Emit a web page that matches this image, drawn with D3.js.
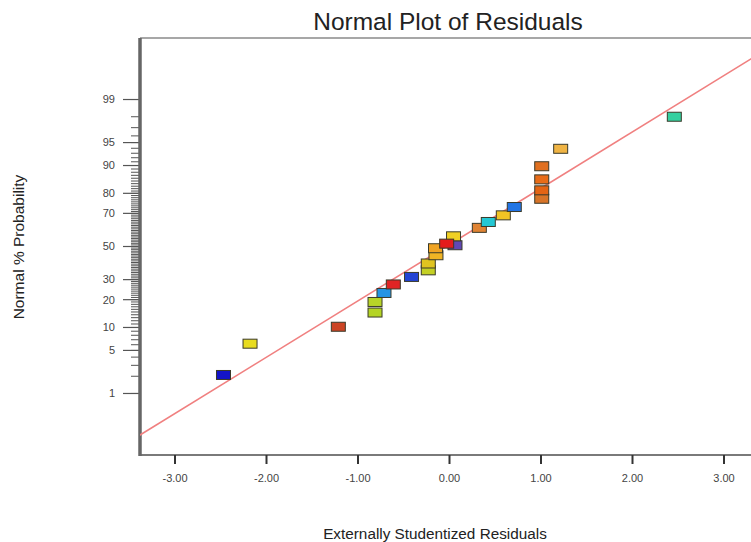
<!DOCTYPE html>
<html>
<head>
<meta charset="utf-8">
<script src="https://cdn.jsdelivr.net/npm/d3@7"></script>
<style>
  body { margin: 0; background: #fff; }
  svg { display: block; font-family: "Liberation Sans", Arial, sans-serif; }
</style>
</head>
<body>
<div id="chart"></div>
<script>
// Residuals (x) and normal % probability (y), in drawing order
const residuals = [-2.47, -2.18, -1.215, -0.814, -0.814, -0.716, -0.614, -0.415, -0.232, -0.232,
                   -0.148, -0.153, 0.06, 0.044, -0.031, 0.326, 0.424, 0.588, 0.708,
                   1.008, 1.008, 1.008, 1.008, 1.215, 2.457];
const probabilities = [2.1, 6.2, 10.2, 14.8, 19.0, 23.1, 27.4, 31.5, 35.3, 39.4,
                       44.5, 48.9, 50.8, 56.4, 51.8, 61.6, 65.1, 68.9, 73.4,
                       77.5, 81.3, 85.6, 89.8, 93.9, 98.0];
const pointColors = ["#1414c8", "#e8dc20", "#cc4424", "#b4d424", "#b8d428", "#2494e4", "#e02424", "#2444d4", "#c4d024", "#e0c420",
                     "#f0b424", "#f0a424", "#6048b4", "#f0d024", "#e41c1c", "#e08434", "#24c8d4", "#f0c424", "#2474e4",
                     "#d87428", "#e46414", "#e86c18", "#e07020", "#f0b444", "#34d0a0"];

// fitted line endpoints
const fitX = [-3.5, 3.5];
const fitP = [0.1004, 99.919];

// axis ticks
const xTicks = [-3, -2, -1, 0, 1, 2, 3];
const yMajorTicks = [1, 5, 10, 20, 30, 50, 70, 80, 90, 95, 99];
const yMinorTicks = d3.range(1, 100);

const width = 751;
const height = 542;

const plot = { left: 140, top: 38, right: 800, bottom: 455 };

// inverse of the normal CDF (Acklam), turns a % probability into a z value
function probit(pct) {
    const p = pct / 100;
    const a = [-3.969683028665376e+01, 2.209460984245205e+02, -2.759285104469687e+02, 1.383577518672690e+02, -3.066479806614716e+01, 2.506628277459239e+00];
    const b = [-5.447609879822406e+01, 1.615858368580409e+02, -1.556989798598866e+02, 6.680131188771972e+01, -1.328068155288572e+01];
    const c = [-7.784894002430293e-03, -3.223964580411365e-01, -2.400758277161838e+00, -2.549732539343734e+00, 4.374664141464968e+00, 2.938163982698783e+00];
    const d = [7.784695709041462e-03, 3.224671290700398e-01, 2.445134137142996e+00, 3.754408661907416e+00];
    const plow = 0.02425, phigh = 1 - plow;
    let q, r;
    if (p < plow) {
        q = Math.sqrt(-2 * Math.log(p));
        return (((((c[0]*q+c[1])*q+c[2])*q+c[3])*q+c[4])*q+c[5]) / ((((d[0]*q+d[1])*q+d[2])*q+d[3])*q+1);
    }
    if (p > phigh) {
        q = Math.sqrt(-2 * Math.log(1 - p));
        return -(((((c[0]*q+c[1])*q+c[2])*q+c[3])*q+c[4])*q+c[5]) / ((((d[0]*q+d[1])*q+d[2])*q+d[3])*q+1);
    }
    q = p - 0.5;
    r = q * q;
    return (((((a[0]*r+a[1])*r+a[2])*r+a[3])*r+a[4])*r+a[5])*q / (((((b[0]*r+b[1])*r+b[2])*r+b[3])*r+b[4])*r+1);
}

const x = d3.scaleLinear().domain([-3, 3]).range([175, 724]);
const z = d3.scaleLinear().domain([-3.3, 3.3]).range([plot.bottom, plot.top]);
const y = p => z(probit(p));

const svg = d3.select("#chart").append("svg")
    .attr("width", width)
    .attr("height", height);

// clip for the fitted line
svg.append("clipPath").attr("id", "plot-clip")
    .append("rect")
    .attr("x", plot.left).attr("y", plot.top)
    .attr("width", plot.right - plot.left).attr("height", plot.bottom - plot.top);

// frame (top edge)
svg.append("line")
    .attr("x1", plot.left).attr("x2", plot.right)
    .attr("y1", plot.top).attr("y2", plot.top)
    .attr("stroke", "#8a8a8a").attr("stroke-width", 1.5);

// bottom axis line
svg.append("line")
    .attr("x1", plot.left).attr("x2", plot.right)
    .attr("y1", plot.bottom).attr("y2", plot.bottom)
    .attr("stroke", "#7a7a7a").attr("stroke-width", 2);

// y minor ticks
svg.append("g").selectAll("line")
    .data(yMinorTicks)
    .join("line")
    .attr("x1", 131).attr("x2", plot.left)
    .attr("y1", d => y(d)).attr("y2", d => y(d))
    .attr("stroke", "#555").attr("stroke-width", 1);

// y major ticks + labels
const yMaj = svg.append("g").selectAll("g")
    .data(yMajorTicks)
    .join("g")
    .attr("transform", d => `translate(0,${y(d)})`);
yMaj.append("line")
    .attr("x1", 123).attr("x2", plot.left)
    .attr("stroke", "#555").attr("stroke-width", 1.2);
yMaj.append("text")
    .attr("x", 115).attr("dy", "0.35em")
    .attr("text-anchor", "end")
    .attr("font-size", 11)
    .attr("fill", "#444")
    .text(d => d);

// left axis line
svg.append("line")
    .attr("x1", plot.left).attr("x2", plot.left)
    .attr("y1", plot.top).attr("y2", plot.bottom + 1)
    .attr("stroke", "#666").attr("stroke-width", 3.5);

// x ticks + labels
const xT = svg.append("g").selectAll("g")
    .data(xTicks)
    .join("g")
    .attr("transform", d => `translate(${x(d)},0)`);
xT.append("line")
    .attr("y1", plot.bottom).attr("y2", plot.bottom + 9)
    .attr("stroke", "#333").attr("stroke-width", 2);
xT.append("text")
    .attr("y", 482)
    .attr("text-anchor", "middle")
    .attr("font-size", 11)
    .attr("fill", "#444")
    .text(d => d.toFixed(2));

// fitted line
svg.append("line")
    .attr("clip-path", "url(#plot-clip)")
    .attr("x1", x(fitX[0])).attr("y1", y(fitP[0]))
    .attr("x2", x(fitX[1])).attr("y2", y(fitP[1]))
    .attr("stroke", "#f08080").attr("stroke-width", 1.6);

// points
const rw = 14, rh = 9;
svg.append("g").selectAll("rect")
    .data(residuals.map((r, i) => ({ r: r, p: probabilities[i], c: pointColors[i] })))
    .join("rect")
    .attr("x", d => x(d.r) - rw / 2)
    .attr("y", d => y(d.p) - rh / 2)
    .attr("width", rw).attr("height", rh)
    .attr("fill", d => d.c)
    .attr("stroke", "#3a3a2a").attr("stroke-width", 1);

// title
svg.append("text")
    .attr("x", 448).attr("y", 30)
    .attr("text-anchor", "middle")
    .attr("font-size", 24.5)
    .attr("fill", "#222")
    .text("Normal Plot of Residuals");

// axis titles
svg.append("text")
    .attr("x", 435).attr("y", 539)
    .attr("text-anchor", "middle")
    .attr("font-size", 15.3)
    .attr("fill", "#222")
    .text("Externally Studentized Residuals");

svg.append("text")
    .attr("transform", "translate(24,247) rotate(-90)")
    .attr("text-anchor", "middle")
    .attr("font-size", 15.5)
    .attr("fill", "#222")
    .text("Normal % Probability");
</script>
</body>
</html>
